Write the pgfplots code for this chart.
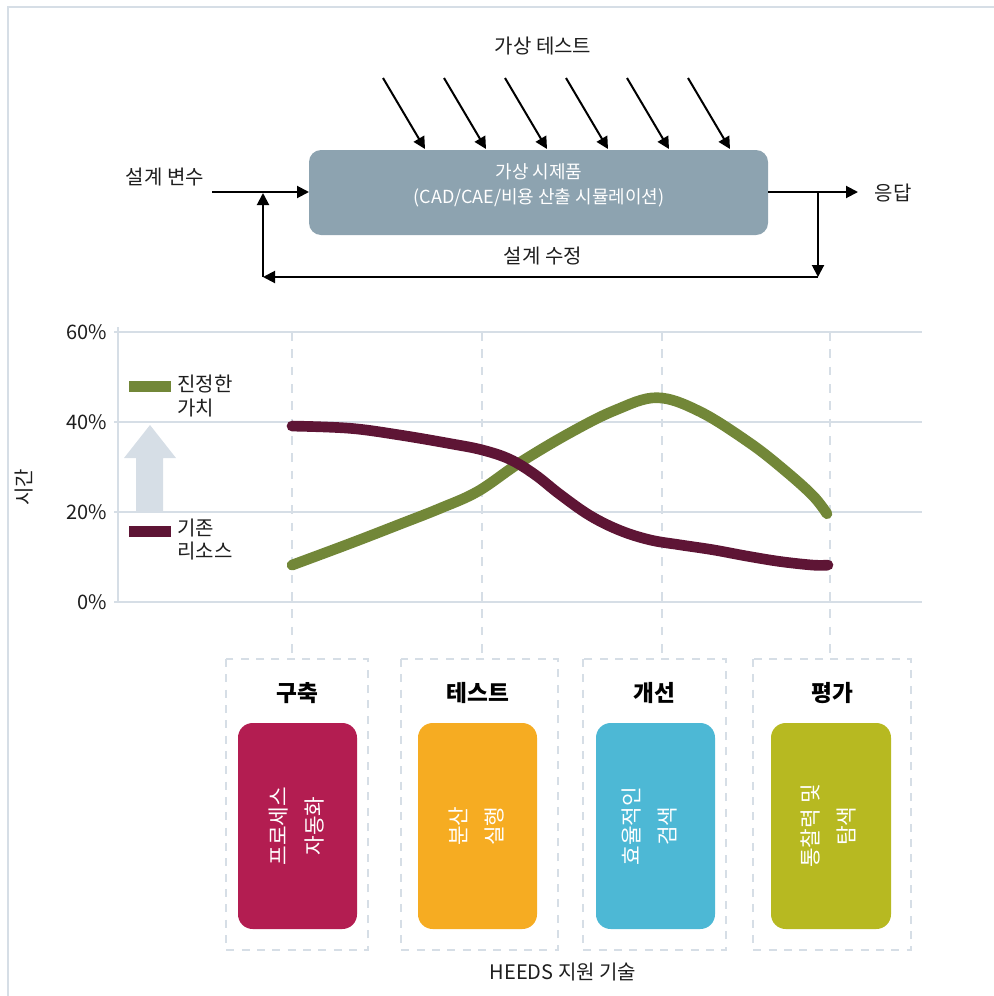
\documentclass[border=0pt]{standalone}
\usepackage{fontspec}
\setmainfont{Noto Sans CJK KR}
\usepackage{pgfplots}
\pgfplotsset{compat=1.18}
\usetikzlibrary{arrows.meta}
\definecolor{gridc}{RGB}{214,222,230}
\definecolor{vgreen}{RGB}{114,135,56}
\definecolor{vmaroon}{RGB}{94,21,53}
\definecolor{boxgray}{RGB}{141,163,176}
\definecolor{cmag}{RGB}{179,29,81}
\definecolor{corange}{RGB}{246,172,34}
\definecolor{ccyan}{RGB}{77,184,213}
\definecolor{colive}{RGB}{183,185,33}
\definecolor{txt}{RGB}{30,30,30}

\pgfplotstableread{
x y
292 8.2
350 13.0
400 17.3
440 20.8
478 24.6
520 31.0
570 37.6
615 42.6
657 45.4
700 42.3
750 35.3
785 29.2
813 23.6
827 19.6
}\greendata

\pgfplotstableread{
x y
292 39.1
350 38.6
400 37.1
450 35.2
482 33.8
510 31.7
535 28.3
560 23.9
590 19.2
620 15.9
650 13.8
680 12.7
713 11.6
747 10.2
780 9.0
813 8.2
828 8.2
}\maroondata

\newcommand{\fs}[1]{\fontsize{#1}{#1}\selectfont}

\begin{document}
\begin{tikzpicture}[x=0.75pt,y=-0.75pt]
\path[use as bounding box] (0,0) rectangle (994,996);

% frame
\draw[gridc, line width=1.3pt] (8,996) -- (8,7) -- (994,7);

% ---------- top diagram ----------
\tikzset{arr/.style={line width=1.5pt, -{Triangle[length=9pt,width=9pt]}}}
\node[font=\fs{15}, text=txt] at (543,46) {가상 테스트};
\foreach \k in {0,...,5} {
  \draw[arr] ({383+61*\k},78) -- ({425+61*\k},149);
}
\fill[boxgray, rounded corners=9pt] (309,150) rectangle (768,235);
\node[font=\fs{13.5}, text=white] at (539,172) {가상 시제품};
\node[font=\fs{13.5}, text=white] at (539,198) {(CAD/CAE/비용 산출 시뮬레이션)};
\node[font=\fs{15}, text=txt] at (165,177) {설계 변수};
\draw[arr] (212,192) -- (309,192);
\draw[arr] (768,192) -- (858,192);
\node[font=\fs{15}, text=txt] at (893,193) {응답};
\draw[arr] (818,192) -- (818,277);
\draw[arr] (818,277) -- (263,277);
\draw[arr] (263,277) -- (263,193);
\node[font=\fs{15}, text=txt] at (543,256) {설계 수정};

% ---------- chart ----------
\draw[gridc, line width=2pt, dash pattern=on 6.5pt off 6.5pt] (292,332) -- (292,659);
\draw[gridc, line width=2pt, dash pattern=on 6.5pt off 6.5pt] (482,332) -- (482,659);
\draw[gridc, line width=2pt, dash pattern=on 6.5pt off 6.5pt] (662,332) -- (662,659);
\draw[gridc, line width=2pt, dash pattern=on 6.5pt off 6.5pt] (830,332) -- (830,659);

\begin{axis}[
  at={(85.5pt,-451.5pt)}, anchor=south west,
  x=0.75pt, y=3.375pt,
  xmin=114, xmax=922, ymin=0, ymax=60,
  axis line style={draw=none},
  xtick=\empty, ytick={0,20,40,60},
  major tick length=0pt,
  ymajorgrids, grid style={gridc, line width=2pt},
  yticklabel={\pgfmathprintnumber{\tick}\%},
  yticklabel style={font=\fs{15}, text=txt, xshift=-2pt},
  /pgf/number format/assume math mode=true,
  clip=false,
]
\addplot[vgreen, line width=8pt, line cap=round, smooth, tension=0.6] table[x=x,y=y] {\greendata};
\addplot[vmaroon, line width=8pt, line cap=round, smooth, tension=0.6] table[x=x,y=y] {\maroondata};
\end{axis}

\draw[gridc, line width=2pt] (118,327) -- (118,603);

% up arrow
\fill[gridc] (150,425) -- (176,458) -- (163,458) -- (163,512) -- (136,512) -- (136,458) -- (124,458) -- cycle;

% legend
\fill[vgreen] (129,381) rectangle (171,392);
\node[anchor=west, font=\fs{15}, text=txt, inner sep=0pt] at (177,384) {진정한};
\node[anchor=west, font=\fs{15}, text=txt, inner sep=0pt] at (177,408) {가치};
\fill[vmaroon] (129,526) rectangle (171,537);
\node[anchor=west, font=\fs{15}, text=txt, inner sep=0pt] at (177,528) {기존};
\node[anchor=west, font=\fs{15}, text=txt, inner sep=0pt] at (177,551) {리소스};

\node[rotate=90, font=\fs{15}, text=txt] at (24,487) {시간};

% ---------- bottom boxes ----------
\tikzset{dbox/.style={gridc, line width=1.8pt, dash pattern=on 6pt off 5.5pt}}
\draw[dbox] (226,659) rectangle (368,950);
\draw[dbox] (401,659) rectangle (558,950);
\draw[dbox] (583,659) rectangle (726,950);
\draw[dbox] (753,659) rectangle (911,950);

\node[font=\bfseries\fs{17}, text=black] at (297,693) {구축};
\node[font=\bfseries\fs{17}, text=black] at (478,693) {테스트};
\node[font=\bfseries\fs{17}, text=black] at (654,693) {개선};
\node[font=\bfseries\fs{17}, text=black] at (832,693) {평가};

\fill[cmag, rounded corners=11pt] (238,723) rectangle (357,929);
\fill[corange, rounded corners=11pt] (418,723) rectangle (537,929);
\fill[ccyan, rounded corners=11pt] (596,723) rectangle (715,929);
\fill[colive, rounded corners=11pt] (771,723) rectangle (891,929);

\tikzset{vt/.style={rotate=90, text=white, align=center, font=\fontsize{16}{27}\selectfont}}
\node[vt] at (297,826) {프로세스\\자동화};
\node[vt] at (476,826) {분산\\실행};
\node[vt] at (650,826) {효율적인\\검색};
\node[vt] at (828,826) {통찰력 및\\탐색};

\node[font=\fs{15}, text=txt] at (563,972) {HEEDS 지원 기술};
\end{tikzpicture}
\end{document}
